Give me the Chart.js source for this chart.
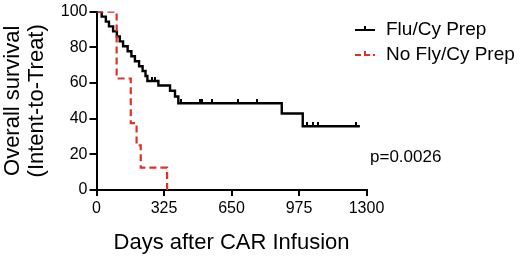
<!DOCTYPE html>
<html>
<head>
<meta charset="utf-8">
<script src="https://cdn.jsdelivr.net/npm/chart.js@4.4.1/dist/chart.umd.min.js"></script>
<style>
  html, body { margin: 0; padding: 0; background: #fff; }
  #wrap { width: 520px; height: 258px; }
</style>
</head>
<body>
<div id="wrap"><canvas id="c" width="520" height="258"></canvas></div>
<script>
// ---- data ----
const xTicks = [0, 325, 650, 975, 1300];
const yTicks = [0, 20, 40, 60, 80, 100];
const seriesNames = ["Flu/Cy Prep", "No Fly/Cy Prep"];

const fluDays = [0, 25, 45, 60, 80, 98, 112, 128, 150, 168, 185, 205, 222, 236, 245, 298, 354, 378, 394, 892, 993, 1268];
const fluSurv = [100, 97.2, 94.4, 91.7, 88.9, 86.1, 83.3, 80.6, 77.8, 75.0, 72.2, 69.4, 66.7, 63.9, 61.1, 58.6, 55.6, 52.4, 48.6, 42.9, 35.7, 35.7];
const fluCensorDays = [265, 282, 405, 498, 509, 557, 680, 774, 1012, 1044, 1068, 1250];
const fluCensorSurv = [61.1, 61.1, 48.6, 48.6, 48.6, 48.6, 48.6, 48.6, 35.7, 35.7, 35.7, 35.7];

const noFluDays = [0, 97, 165, 193, 213, 340];
const noFluSurv = [100, 62.5, 37.5, 25, 12.5, 0];

const pValueText = "p=0.0026";

// ---- chart ----
const FONT = "'Liberation Sans', Arial, Helvetica, sans-serif";
const BLACK = "#000000";
const RED = "#e0302a";

function pts(xs, ys) { return xs.map((x, i) => ({ x: x, y: ys[i] })); }

// censor tick marker (tick above the line)
const tick = document.createElement('canvas');
tick.width = 2; tick.height = 8;
(function () {
  const t = tick.getContext('2d');
  t.fillStyle = BLACK;
  t.fillRect(0, 0, 2, 4);
})();

const legendPlugin = {
  id: 'kmLegend',
  afterDraw(chart) {
    const ctx = chart.ctx;
    ctx.save();
    ctx.font = "19px " + FONT;
    ctx.textBaseline = 'middle';
    ctx.textAlign = 'left';
    // black
    ctx.strokeStyle = BLACK; ctx.lineWidth = 2; ctx.setLineDash([]);
    ctx.beginPath(); ctx.moveTo(355, 30); ctx.lineTo(375, 30); ctx.stroke();
    ctx.beginPath(); ctx.moveTo(365, 30); ctx.lineTo(365, 26); ctx.stroke();
    ctx.fillStyle = BLACK;
    ctx.fillText(seriesNames[0], 386, 30);
    // red
    ctx.strokeStyle = RED; ctx.setLineDash([6, 3]);
    ctx.beginPath(); ctx.moveTo(355, 55); ctx.lineTo(375, 55); ctx.stroke();
    ctx.setLineDash([]);
    ctx.beginPath(); ctx.moveTo(365, 55); ctx.lineTo(365, 51); ctx.stroke();
    ctx.fillStyle = BLACK;
    ctx.fillText(seriesNames[1], 386, 55);
    // p value
    ctx.font = "17px " + FONT;
    ctx.fillText(pValueText, 370, 157);
    ctx.restore();
  }
};

new Chart(document.getElementById('c'), {
  type: 'line',
  data: {
    datasets: [
      {
        label: seriesNames[1],
        data: pts(noFluDays, noFluSurv),
        borderColor: RED, borderWidth: 2.2, borderDash: [7, 4],
        stepped: true, pointRadius: 0, fill: false
      },
      {
        label: seriesNames[0],
        data: pts(fluDays, fluSurv),
        borderColor: BLACK, borderWidth: 2.4,
        stepped: true, pointRadius: 0, fill: false
      },
      {
        label: 'censored',
        data: pts(fluCensorDays, fluCensorSurv),
        showLine: false,
        pointStyle: tick, pointRadius: 4,
        borderColor: BLACK, backgroundColor: BLACK
      }
    ]
  },
  options: {
    responsive: false,
    devicePixelRatio: 1,
    animation: false,
    layout: { padding: { top: 10, right: 153.5, left: 0, bottom: 0 } },
    plugins: { legend: { display: false }, tooltip: { enabled: false } },
    scales: {
      x: {
        type: 'linear',
        min: 0, max: 1300,
        afterBuildTicks: (s) => { s.ticks = xTicks.map(v => ({ value: v })); },
        afterFit: (s) => { s.height = 68; },
        ticks: { color: BLACK, font: { family: FONT, size: 16 }, padding: 3, maxRotation: 0,
                 callback: (v) => String(v) },
        grid: { display: true, drawOnChartArea: false, drawTicks: true, tickLength: 6, color: BLACK, lineWidth: 2 },
        border: { display: true, color: BLACK, width: 2 },
        title: { display: true, text: 'Days after CAR Infusion', color: BLACK,
                 font: { family: FONT, size: 22 }, padding: { top: 0, bottom: 2 } }
      },
      y: {
        type: 'linear',
        min: 0, max: 100,
        afterBuildTicks: (s) => { s.ticks = yTicks.map(v => ({ value: v })); },
        afterFit: (s) => { s.width = 96.5; },
        ticks: { color: BLACK, font: { family: FONT, size: 16 }, padding: 2,
                 callback: (v) => String(v) },
        grid: { display: true, drawOnChartArea: false, drawTicks: true, tickLength: 7, color: BLACK, lineWidth: 2 },
        border: { display: true, color: BLACK, width: 2 },
        title: { display: true, text: ['Overall survival', '(Intent-to-Treat)'], color: BLACK,
                 font: { family: FONT, size: 22, lineHeight: 1.1 }, padding: { top: 1, bottom: 0 } }
      }
    }
  },
  plugins: [legendPlugin]
});
</script>
</body>
</html>
